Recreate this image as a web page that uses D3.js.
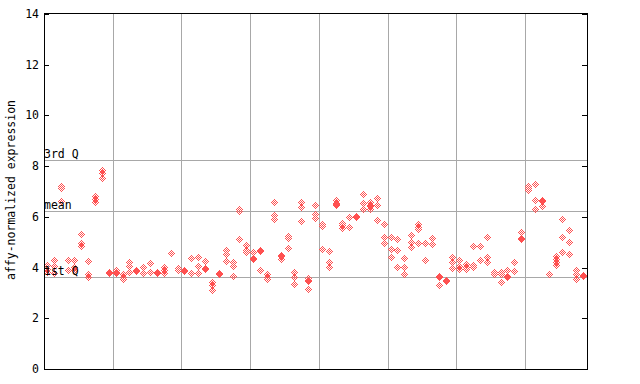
<!DOCTYPE html>
<html><head><meta charset="utf-8">
<script src="https://cdn.jsdelivr.net/npm/d3@7"></script>
<style>body{margin:0;background:#fff}svg{display:block}</style>
</head><body>
<script>
// per-sample replicate values (affy-normalized expression)
const sampleValues = [
 [4.10,3.94,3.79],[4.27,4.06,3.77],[7.2,7.1,6.6],[4.29,3.90],[4.29,4.01,3.90],
 [5.32,4.93,4.82],[4.22,3.73,3.62],[6.79,6.70,6.56],[7.82,7.71,7.52],[3.82,3.80,3.78],
 [3.88,3.82,3.75],[3.71,3.62,3.51],[4.21,4.03,3.81],[3.90,3.88,3.86],[4.02,3.78,3.75],
 [4.17,3.81],[3.82,3.80,3.78],[3.99,3.88,3.77],[4.57],[3.97,3.88],
 [3.88,3.86,3.84],[4.34,3.78,3.75],[4.38,4.05,3.77],[4.25,3.98,3.94],[3.42,3.31,3.10],
 [3.77,3.71],[4.69,4.51,4.25],[4.21,4.03,3.65],[6.30,6.22,5.09],[4.88,4.69,4.60],
 [4.60,4.34,4.30],[4.68,4.64,3.89],[3.71,3.60,3.51],[6.57,6.06,5.88],[4.48,4.42,4.32],
 [5.24,5.14,4.76],[3.81,3.59,3.34],[6.57,6.38,5.82],[3.58,3.49,3.45,3.14],[6.45,6.11,5.93],
 [5.68,5.61,4.73],[4.64,4.21,3.99],[6.66,6.53,6.47,6.43],[5.74,5.64,5.53],[5.99,5.59],
 [6.01,5.99,5.97],[6.90,6.53,6.30],[6.57,6.46,6.42,6.30],[6.73,6.45,5.86],[5.70,5.17,4.96],
 [5.19,4.72,4.40],[5.09,4.69,4.01],[4.34,4.01,3.73],[5.27,4.97,4.80],[5.68,5.59,5.49,4.96],
 [4.96,4.29],[5.15,4.92],[3.64,3.60,3.30],[3.50,3.46],[4.40,4.21,3.97],
 [4.29,4.03,3.93],[4.13,4.02,3.92],[4.84,4.10,4.01],[4.84,4.29],[5.19,4.40,4.19],
 [3.80,3.73,3.71],[3.80,3.71,3.42],[3.90,3.64,3.60],[4.21,3.85],[5.39,5.13,5.09],
 [7.20,7.10,7.02],[7.26,6.65,6.30],[6.64,6.60,6.41],[3.71],[4.43,4.30,4.19,4.07],
 [5.88,5.19,4.60],[5.48,5.00,4.52],[3.90,3.71,3.54],[3.70,3.66]
];
const quartileLabels = ["3rd Q","mean","1st Q"];
const quartileValues = [8.24,6.23,3.63];
const yTicks = [0,2,4,6,8,10,12,14];
const groupBreaks = [10,20,30,40,50,60,70];

const W=640,H=384, L=44, R=587, T=14, B=369;
const svg=d3.select("body").append("svg").attr("width",W).attr("height",H);
const x=d3.scaleLinear().domain([0,sampleValues.length]).range([L,R]);
const y=d3.scaleLinear().domain([0,14]).range([B,T]);
const red="#ff5050", grid="#a8a8a8";
const font="'DejaVu Sans Mono', monospace";

const defs=svg.append("defs");
[["chkA",[[0,0],[1,1]]],["chkB",[[1,0],[0,1]]]].forEach(([id,cells])=>{
  const p=defs.append("pattern").attr("id",id).attr("patternUnits","userSpaceOnUse")
    .attr("width",2).attr("height",2);
  cells.forEach(c=>p.append("rect").attr("x",c[0]).attr("y",c[1]).attr("width",1).attr("height",1).attr("fill",red));
});

// grid
svg.append("g").selectAll("line").data(groupBreaks).join("line")
  .attr("x1",d=>Math.round(x(d))+0.5).attr("x2",d=>Math.round(x(d))+0.5)
  .attr("y1",T).attr("y2",B).attr("stroke",grid).attr("stroke-width",1);
svg.append("g").selectAll("line").data(quartileValues).join("line")
  .attr("x1",L).attr("x2",R)
  .attr("y1",d=>Math.round(y(d))+0.5).attr("y2",d=>Math.round(y(d))+0.5)
  .attr("stroke",grid).attr("stroke-width",1);

// points
function diamond(cx,cy){
  const pts=[];
  for(let dy=-3;dy<=3;dy++){const w=3-Math.abs(dy);pts.push([cx+w+1,cy+dy],[cx+w+1,cy+dy+1]);}
  for(let dy=3;dy>=-3;dy--){const w=3-Math.abs(dy);pts.push([cx-w,cy+dy+1],[cx-w,cy+dy]);}
  return "M"+pts.map(p=>p.join(",")).join("L")+"Z";
}
const pts=[];
sampleValues.forEach((vals,i)=>vals.forEach(v=>pts.push({i,v})));
svg.append("g").attr("shape-rendering","crispEdges").selectAll("path").data(pts).join("path")
  .attr("d",d=>{const cx=Math.floor(x(d.i+0.5)),cy=Math.floor(y(d.v));return diamond(cx,cy);})
  .attr("fill",d=>{const cx=Math.floor(x(d.i+0.5)),cy=Math.floor(y(d.v));return ((cx+cy)%2!==0)?"url(#chkA)":"url(#chkB)";});

// axes
const ax=svg.append("g").attr("shape-rendering","crispEdges");
ax.append("line").attr("x1",L+0.5).attr("x2",L+0.5).attr("y1",T).attr("y2",B+1).attr("stroke","#000");
ax.append("line").attr("x1",R+0.5).attr("x2",R+0.5).attr("y1",T).attr("y2",B+1).attr("stroke","#000");
ax.append("line").attr("x1",L).attr("x2",R+1).attr("y1",T-0.5).attr("y2",T-0.5).attr("stroke","#000");
ax.append("line").attr("x1",L).attr("x2",R+1).attr("y1",B+0.5).attr("y2",B+0.5).attr("stroke","#000");
ax.selectAll(".tl").data(yTicks).join("line").attr("class","tl")
  .attr("x1",L).attr("x2",L+5).attr("y1",d=>Math.round(y(d))+0.5).attr("y2",d=>Math.round(y(d))+0.5).attr("stroke","#000");
ax.selectAll(".tr").data(yTicks).join("line").attr("class","tr")
  .attr("x1",R-5).attr("x2",R).attr("y1",d=>Math.round(y(d))+0.5).attr("y2",d=>Math.round(y(d))+0.5).attr("stroke","#000");
svg.append("g").selectAll("text").data(yTicks).join("text")
  .attr("x",L-5).attr("y",d=>y(d)+4).attr("text-anchor","end")
  .attr("font-family",font).attr("font-size","11.5px").attr("fill","#000").text(d=>d);

// quartile labels
svg.append("g").selectAll("text").data(quartileLabels).join("text")
  .attr("x",L).attr("y",(d,i)=>y(quartileValues[i])-2)
  .attr("font-family",font).attr("font-size","11.5px").attr("fill","#000").text(d=>d);

// y label
svg.append("text").attr("transform","translate(15,190) rotate(-90)").attr("text-anchor","middle")
  .attr("font-family",font).attr("font-size","11.5px").attr("fill","#000").text("affy-normalized expression");
</script>
</body></html>
